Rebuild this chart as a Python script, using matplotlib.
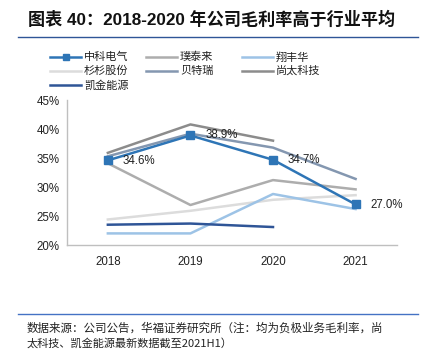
import matplotlib
matplotlib.use("Agg")
import matplotlib.pyplot as plt
from matplotlib.lines import Line2D

plt.rcParams['font.family'] = ['Liberation Sans', 'Noto Sans CJK SC', 'DejaVu Sans']

years = ['2018', '2019', '2020', '2021']
names = ['中科电气', '璞泰来', '翔丰华', '杉杉股份', '贝特瑞', '尚太科技', '凯金能源']
zhongke = [34.6, 38.9, 34.7, 27.0]
putailai = [34.1, 26.9, 31.2, 29.6]
xiangfenghua = [22.0, 22.0, 28.8, 26.2]
shanshan = [24.4, 25.9, 27.8, 28.6]
beiterui = [35.3, 39.2, 36.8, 31.4]
shangtai = [35.9, 40.8, 38.0, None]
kaijin = [23.5, 23.7, 23.1, None]
series = [zhongke, putailai, xiangfenghua, shanshan, beiterui, shangtai, kaijin]
colors = ['#2E75B6', '#ADADAD', '#9DC3E6', '#DCDCDC', '#8497B0', '#8C8C8C', '#2F5597']
yticks = [20, 25, 30, 35, 40, 45]
labels_idx = [0, 1, 2, 3]

fig = plt.figure(figsize=(4.24, 3.5), dpi=100)
ax = fig.add_axes([0.157, 0.30, 0.779, 0.414])
x = list(range(len(years)))

zorders = [10, 3, 3, 2, 4, 5, 4]
for vals, name, c, z in zip(series, names, colors, zorders):
    xs = [i for i, v in zip(x, vals) if v is not None]
    vs = [v for v in vals if v is not None]
    if name == '中科电气':
        ax.plot(xs, vs, color=c, lw=1.8, marker='s', ms=6, zorder=z)
    else:
        ax.plot(xs, vs, color=c, lw=1.8, zorder=z)

offsets = [(0.18, -0.1), (0.18, 0.05), (0.18, -0.05), (0.18, -0.1)]
for i, (dx, dy) in zip(labels_idx, offsets):
    ax.text(x[i] + dx, zhongke[i] + dy, f'{zhongke[i]:.1f}%', fontsize=8.3,
            va='center', ha='left', color='#222222', zorder=12)

ax.set_xlim(-0.5, 3.5)
ax.set_ylim(20, 45)
ax.set_yticks(yticks)
ax.set_yticklabels([f'{t}%' for t in yticks], fontsize=8.3)
ax.set_xticks(x)
ax.set_xticklabels(years, fontsize=8.3)
for s in ['top', 'right']:
    ax.spines[s].set_visible(False)
for s in ['left', 'bottom']:
    ax.spines[s].set_color('#BFBFBF')
    ax.spines[s].set_linewidth(1.0)
ax.tick_params(axis='both', length=0, pad=5, colors='#222222')
ax.tick_params(axis='x', pad=8)

# Title
fig.text(28/424, 1 - 19/350, '图表 40：2018-2020 年公司毛利率高于行业平均',
         fontsize=12.3, fontweight='heavy', va='center', ha='left',
         family=['Liberation Sans', 'Noto Sans CJK SC'], color='#111111')
fig.add_artist(Line2D([18/424, 418/424], [1 - 37/350, 1 - 37/350], color='#2F5597', lw=1.0))

# Legend (manual layout)
order_rows = [[0, 1, 2], [3, 4, 5], [6]]
col_x = [50, 146, 242]
row_y = [57, 71, 85]
for r, row in enumerate(order_rows):
    for cidx, k in enumerate(row):
        x0 = col_x[cidx] / 424
        x1 = (col_x[cidx] + 31) / 424
        yy = 1 - row_y[r] / 350
        fig.add_artist(Line2D([x0, x1], [yy, yy], color=colors[k], lw=1.8))
        if k == 0:
            fig.add_artist(Line2D([(x0 + x1) / 2], [yy], color=colors[k], marker='s', ms=5))
        fig.text((col_x[cidx] + 34) / 424, yy, names[k], fontsize=8, va='center', ha='left',
                 family=['Noto Sans CJK SC'], color='#222222')

# Footer
fig.add_artist(Line2D([18/424, 418/424], [1 - 314/350, 1 - 314/350], color='#4472C4', lw=1.0))
fig.text(27/424, 1 - 328/350, '数据来源：公司公告，华福证券研究所（注：均为负极业务毛利率，尚',
         fontsize=8.3, va='center', ha='left', family=['Noto Sans CJK SC'], color='#222222')
fig.text(27/424, 1 - 343/350, '太科技、凯金能源最新数据截至2021H1）',
         fontsize=8.0, va='center', ha='left', family=['Noto Sans CJK SC'], color='#222222')

fig.savefig('out.png', dpi=100)
